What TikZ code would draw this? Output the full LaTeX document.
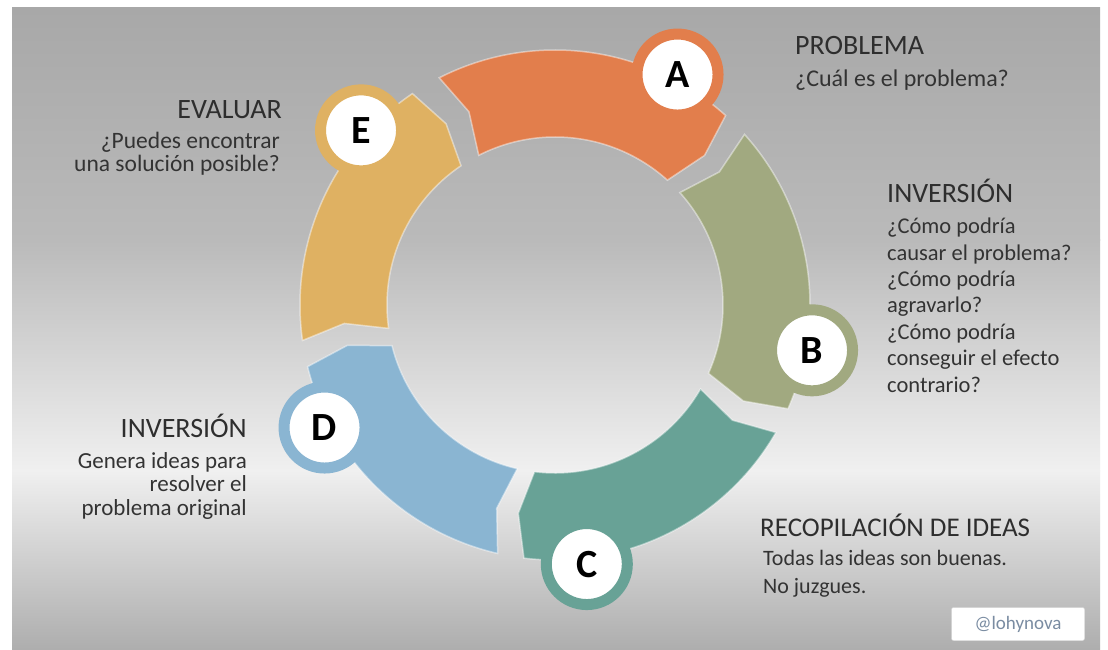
\documentclass[tikz,border=0pt]{standalone}
\usepackage{fontspec}
\setmainfont{Carlito}
\usepackage{tikz}

\definecolor{segA}{RGB}{226,126,76}
\definecolor{segB}{RGB}{161,169,128}
\definecolor{segC}{RGB}{104,162,150}
\definecolor{segD}{RGB}{138,181,210}
\definecolor{segE}{RGB}{223,177,98}
\definecolor{bgtop}{RGB}{168,168,168}
\definecolor{bgmid}{RGB}{186,186,186}
\definecolor{bglight}{RGB}{240,240,240}
\definecolor{bgbot}{RGB}{174,174,174}
\definecolor{tagtext}{RGB}{122,140,162}

\begin{document}
\begin{tikzpicture}[x=1pt, y=1pt,
  segment/.style={draw=white, draw opacity=0.45, line width=1.5pt},
  bubble/.style={circle, fill=white, line width=11pt, minimum size=81pt, inner sep=0pt,
    font=\fontsize{40}{40}\selectfont\bfseries},
  title/.style={text=black!82, font=\fontsize{28}{30}\selectfont, inner sep=0pt},
  body/.style={text=black!80, inner sep=0pt}]

 \useasboundingbox (0,0) rectangle (1108,649);
 \fill[white] (0,0) rectangle (1108,649);
 \shade[top color=bgtop, bottom color=bgmid] (12,408) rectangle (1100,641);
 \shade[top color=bgmid, bottom color=bglight] (12,178) rectangle (1100,409);
 \shade[top color=bglight, bottom color=bgbot] (12,0) rectangle (1100,179);

 % ring, centre at (555,344)
 \begin{scope}[shift={(555,344)}]

 \filldraw[segment, fill=segA] (117:255) arc[start angle=117, end angle=48, radius=255]
   -- (45:211.5) -- (48:168) arc[start angle=48, end angle=117, radius=168] -- (114:211.5) -- cycle;
 \filldraw[segment, fill=segB] (42:255) arc[start angle=42, end angle=-24, radius=255]
   -- (-27:211.5) -- (-24:168) arc[start angle=-24, end angle=42, radius=168] -- (39:211.5) -- cycle;
 \filldraw[segment, fill=segC] (-30:255) arc[start angle=-30, end angle=-97, radius=255]
   -- (-100:211.5) -- (-97:168) arc[start angle=-97, end angle=-30, radius=168] -- (-33:211.5) -- cycle;
 \filldraw[segment, fill=segD] (-103:255) arc[start angle=-103, end angle=-166, radius=255]
   -- (-169:211.5) -- (-166:168) arc[start angle=-166, end angle=-103, radius=168] -- (-106:211.5) -- cycle;
 \filldraw[segment, fill=segE] (-172:255) arc[start angle=-172, end angle=-236, radius=255]
   -- (-239:211.5) -- (-236:168) arc[start angle=-236, end angle=-172, radius=168] -- (-175:211.5) -- cycle;

 \node[bubble, draw=segA] (bubA) at (62:261) {A};
 \node[bubble, draw=segB] (bubB) at (-10:261) {B};
 \node[bubble, draw=segC] (bubC) at (-83:261) {C};
 \node[bubble, draw=segD] (bubD) at (-152:261) {D};
 \node[bubble, draw=segE] (bubE) at (138:261) {E};

 \end{scope}

 % texts
 \node[title, anchor=base west] (probT) at (795,594) {PROBLEMA};
 \node[body, anchor=base west, font=\fontsize{24}{26}\selectfont] (probB) at (795,562) {¿Cuál es el problema?};

 \node[title, anchor=base west] (invT) at (887,446) {INVERSIÓN};
 \node[body, anchor=base west, align=left, font=\fontsize{22.5}{26.4}\selectfont] (invB) at (887,257)
   {¿Cómo podría\\causar el problema?\\¿Cómo podría\\agravarlo?\\¿Cómo podría\\conseguir el efecto\\contrario?};

 \node[title, anchor=base west, font=\fontsize{27}{30}\selectfont] (recT) at (760,113) {RECOPILACIÓN DE IDEAS};
 \node[body, anchor=base west, align=left, font=\fontsize{22}{28}\selectfont] (recB) at (763,56)
   {Todas las ideas son buenas.\\No juzgues.};

 \node[title, anchor=base east] (genT) at (247,212) {INVERSIÓN};
 \node[body, anchor=base east, align=right, font=\fontsize{23}{23.5}\selectfont] (genB) at (247,134)
   {Genera ideas para\\resolver el\\problema original};

 \node[title, anchor=base east] (evaT) at (282,530) {EVALUAR};
 \node[body, anchor=base east, align=right, font=\fontsize{23.5}{23}\selectfont] (evaB) at (280,477)
   {¿Puedes encontrar\\una solución posible?};

 \node[draw=black!15, fill=white, rounded corners=2pt, minimum width=133pt, minimum height=33pt,
   text=tagtext, font=\fontsize{19}{19}\selectfont] (tag) at (1018,25) {@lohynova};

\end{tikzpicture}
\end{document}
